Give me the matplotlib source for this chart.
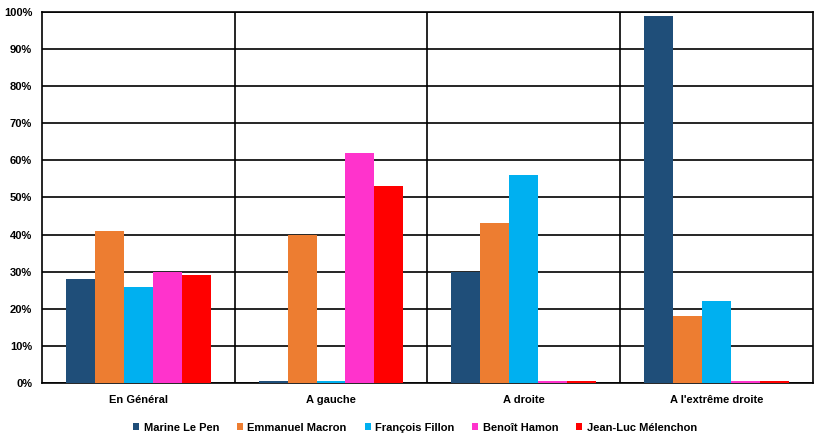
import numpy as np
import matplotlib
matplotlib.use('Agg')
import matplotlib.pyplot as plt
from matplotlib.ticker import PercentFormatter

plt.rcParams['font.family'] = ['Liberation Sans', 'DejaVu Sans']
plt.rcParams['font.weight'] = 'bold'

# Données
categories = ['En Général', 'A gauche', 'A droite', "A l'extrême droite"]
candidats = ['Marine Le Pen', 'Emmanuel Macron', 'François Fillon', 'Benoît Hamon', 'Jean-Luc Mélenchon']
le_pen = [28, 0.5, 30, 99]
macron = [41, 40, 43, 18]
fillon = [26, 0.5, 56, 22]
hamon = [30, 62, 0.5, 0.5]
melenchon = [29, 53, 0.5, 0.5]
couleurs = ['#1F4E79', '#ED7D31', '#00B0F0', '#FF33CC', '#FF0000']

series = [le_pen, macron, fillon, hamon, melenchon]

fig = plt.figure(figsize=(8.21, 4.38), dpi=100)
ax = fig.add_axes([0.051, 0.1256, 0.939, 0.847])

x = np.arange(len(categories))
largeur = 0.15
for i, (vals, nom, c) in enumerate(zip(series, candidats, couleurs)):
    ax.bar(x + (i - 2) * largeur, vals, largeur, color=c, label=nom, zorder=3)

ax.set_xlim(-0.5, len(categories) - 0.5)
ax.set_ylim(0, 100)
ax.set_yticks(np.arange(0, 101, 10))
ax.yaxis.set_major_formatter(PercentFormatter(decimals=0))
ax.set_xticks(x)
ax.set_xticklabels(categories)
ax.tick_params(axis='both', length=0, labelsize=8)
ax.tick_params(axis='x', pad=9)
ax.tick_params(axis='y', pad=7)

ax.grid(axis='y', color='black', linewidth=1.2, zorder=0)
for sep in x[:-1] + 0.5:
    ax.axvline(sep, color='black', linewidth=1.2, zorder=1)
for s in ax.spines.values():
    s.set_color('black')
    s.set_linewidth(1.2)

ax.legend(loc='upper center', bbox_to_anchor=(0.484, -0.08), ncol=5, frameon=False,
          fontsize=8, handlelength=0.55, handleheight=0.55, columnspacing=1.6, handletextpad=0.4)

plt.savefig('out.png', dpi=100)
